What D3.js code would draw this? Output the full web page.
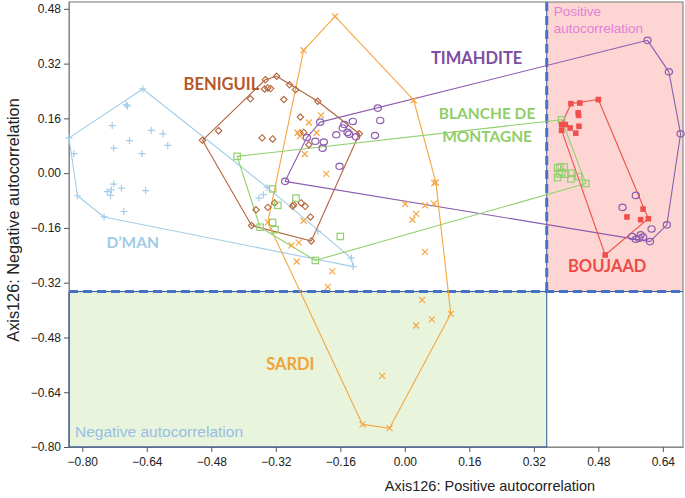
<!DOCTYPE html>
<html>
<head>
<meta charset="utf-8">
<script src="https://cdn.jsdelivr.net/npm/d3@7"></script>
<style>
  body { margin: 0; background: #fff; }
  svg { display: block; }
</style>
</head>
<body>
<script>
// points, [axis1, axis2]
const dman = [[-0.650, 0.246], [-0.691, 0.200], [-0.688, 0.196], [-0.726, 0.139], [-0.629, 0.125],
    [-0.600, 0.115], [-0.683, 0.095], [-0.588, 0.081], [-0.722, 0.073], [-0.652, 0.057],
    [-0.833, 0.103], [-0.821, 0.057], [-0.722, -0.032], [-0.703, -0.044], [-0.738, -0.054],
    [-0.728, -0.049], [-0.730, -0.065], [-0.643, -0.051], [-0.812, -0.066], [-0.697, -0.112],
    [-0.746, -0.128], [-0.342, -0.041], [-0.362, -0.073], [-0.351, -0.063], [-0.216, -0.170],
    [-0.133, -0.248], [-0.128, -0.273]];
const beniguil = [[-0.318, 0.283], [-0.346, 0.273], [-0.286, 0.258], [-0.348, 0.246], [-0.340, 0.249],
    [-0.333, 0.247], [-0.271, 0.244], [-0.383, 0.217], [-0.300, 0.215], [-0.216, 0.210],
    [-0.259, 0.164], [-0.462, 0.124], [-0.251, 0.119], [-0.260, 0.117], [-0.354, 0.103],
    [-0.328, 0.100], [-0.502, 0.096], [-0.238, 0.083], [-0.113, 0.115], [-0.369, -0.107],
    [-0.340, -0.100], [-0.323, -0.087], [-0.278, -0.097], [-0.276, -0.092], [-0.257, -0.087],
    [-0.247, -0.097], [-0.234, -0.128], [-0.380, -0.153], [-0.232, -0.198]];
const timahdite = [[-0.210, 0.149], [-0.067, 0.190], [-0.061, 0.154], [-0.129, 0.151], [-0.150, 0.142],
    [-0.154, 0.132], [-0.142, 0.119], [-0.138, 0.114], [-0.170, 0.112], [-0.121, 0.106],
    [-0.074, 0.110], [-0.243, 0.104], [-0.222, 0.093], [-0.201, 0.091], [-0.204, 0.073],
    [-0.162, 0.020], [-0.297, -0.024], [0.602, 0.388], [0.655, 0.296], [0.684, 0.115],
    [0.573, -0.065], [0.540, -0.100], [0.650, -0.151], [0.612, -0.163], [0.608, -0.200],
    [0.564, -0.185], [0.573, -0.193], [0.581, -0.190], [0.591, -0.187], [0.585, -0.180]];
const sardi = [[-0.173, 0.458], [-0.251, 0.359], [0.022, 0.213], [0.077, -0.027], [0.114, -0.411],
    [-0.038, -0.745], [-0.105, -0.734], [-0.340, -0.144], [-0.208, 0.169], [-0.238, 0.148],
    [-0.219, 0.118], [-0.266, 0.118], [-0.260, 0.108], [-0.248, 0.056], [-0.195, -0.002],
    [0.073, -0.029], [0.001, -0.090], [0.050, -0.094], [0.072, -0.089], [0.028, -0.119],
    [0.019, -0.136], [-0.251, -0.139], [0.050, -0.230], [-0.281, -0.211], [-0.263, -0.203],
    [-0.268, -0.258], [-0.180, -0.287], [-0.191, -0.332], [0.043, -0.370], [0.067, -0.427],
    [0.028, -0.445], [-0.056, -0.592]];
const blanche = [[-0.416, 0.049], [-0.328, -0.046], [-0.315, -0.094], [-0.270, -0.073], [-0.328, -0.144],
    [-0.359, -0.158], [-0.322, -0.165], [-0.222, -0.255], [-0.160, -0.185], [0.389, 0.156],
    [0.379, 0.015], [0.385, 0.018], [0.395, 0.018], [0.389, 0.002], [0.383, -0.002],
    [0.379, -0.013], [0.399, -0.003], [0.412, 0.000], [0.412, -0.017], [0.431, -0.010],
    [0.449, -0.030]];
const boujaad = [[0.412, 0.203], [0.434, 0.205], [0.480, 0.215], [0.430, 0.176], [0.431, 0.169],
    [0.389, 0.142], [0.398, 0.142], [0.410, 0.132], [0.432, 0.137], [0.389, 0.125],
    [0.424, 0.117], [0.591, -0.105], [0.551, -0.128], [0.585, -0.136], [0.604, -0.133],
    [0.497, -0.239]];

const groupNames = ["D’MAN", "BENIGUIL", "TIMAHDITE", "SARDI", "BLANCHE DE MONTAGNE", "BOUJAAD"];
const groupPoints = [dman, beniguil, timahdite, sardi, blanche, boujaad];
const groupLabelPos = [[-0.675, -0.218], [-0.455, 0.244], [0.178, 0.318], [-0.284, -0.574], [0.204, 0.157], [0.502, -0.288]];

const xTicks = [-0.80, -0.64, -0.48, -0.32, -0.16, 0.00, 0.16, 0.32, 0.48, 0.64];
const yTicks = [0.48, 0.32, 0.16, 0.00, -0.16, -0.32, -0.48, -0.64, -0.80];

// autocorrelation quadrant thresholds
const xSplit = 0.352;
const ySplit = -0.346;

const colors = ["#a3cde9", "#b3643a", "#8c5db0", "#f6a640", "#92cf6d", "#f0504c"];
const labelColors = ["#9fcbe6", "#b5582a", "#7e4ea2", "#f0a43a", "#8fce68", "#ee4b48"];
const markers = ["plus", "diamond", "circle", "cross", "square", "filled"];

const width = 685, height = 498;
const margin = {left: 69, right: 2, top: 2, bottom: 51};

const svg = d3.select("body").append("svg")
    .attr("width", width)
    .attr("height", height)
    .style("font-family", "'Liberation Sans', Arial, sans-serif");

const x = d3.scaleLinear().domain([-0.833, 0.69]).range([margin.left, width - margin.right]);
const y = d3.scaleLinear().domain([-0.80, 0.50]).range([height - margin.bottom, margin.top]);

// shaded regions
svg.append("rect")
    .attr("x", x(-0.833)).attr("y", y(ySplit))
    .attr("width", x(xSplit) - x(-0.833)).attr("height", y(-0.80) - y(ySplit))
    .attr("fill", "#e8f4dc");
svg.append("rect")
    .attr("x", x(xSplit)).attr("y", y(0.50))
    .attr("width", x(0.69) - x(xSplit)).attr("height", y(ySplit) - y(0.50))
    .attr("fill", "#fdd6d3");

// frame
svg.append("rect")
    .attr("x", x(-0.833)).attr("y", y(0.50))
    .attr("width", x(0.69) - x(-0.833)).attr("height", y(-0.80) - y(0.50))
    .attr("fill", "none").attr("stroke", "#8a8a8a").attr("stroke-width", 1.2);

// axes
const xAxis = svg.append("g")
    .attr("transform", "translate(0," + y(-0.80) + ")")
    .call(d3.axisBottom(x).tickValues(xTicks).tickFormat(d3.format(".2f")).tickSize(5).tickSizeOuter(0));
const yAxis = svg.append("g")
    .attr("transform", "translate(" + x(-0.833) + ",0)")
    .call(d3.axisLeft(y).tickValues(yTicks).tickFormat(d3.format(".2f")).tickSize(5).tickSizeOuter(0));
[xAxis, yAxis].forEach(a => {
    a.select(".domain").attr("stroke", "#8a8a8a");
    a.selectAll(".tick line").attr("stroke", "#555");
    a.selectAll("text").attr("font-size", 12).attr("fill", "#222")
        .attr("font-family", "'Liberation Sans', Arial, sans-serif");
});
xAxis.selectAll("text").attr("dy", "0.9em");

svg.append("text")
    .attr("x", 490).attr("y", 491)
    .attr("text-anchor", "middle")
    .attr("font-size", 14.5).attr("fill", "#222")
    .text("Axis126: Positive  autocorrelation");
svg.append("text")
    .attr("transform", "translate(19," + 220 + ") rotate(-90)")
    .attr("text-anchor", "middle")
    .attr("font-size", 16.3).attr("fill", "#222")
    .text("Axis126: Negative  autocorrelation");

// region borders: thin solid line, heavy dashes on the split lines
let line = d3.line().x(d => x(d[0])).y(d => y(d[1]));
svg.append("path")
    .attr("d", line([[-0.833, -0.80], [-0.833, ySplit], [0.69, ySplit]]))
    .attr("fill", "none").attr("stroke", "#2f5597").attr("stroke-width", 1);
svg.append("path")
    .attr("d", line([[-0.833, -0.80], [xSplit, -0.80], [xSplit, 0.50]]))
    .attr("fill", "none").attr("stroke", "#2f5597").attr("stroke-width", 1);
[[[-0.833, ySplit], [0.69, ySplit]], [[xSplit, 0.50], [xSplit, ySplit]]].forEach(seg => {
    svg.append("path").attr("d", line(seg)).attr("fill", "none")
        .attr("stroke", "#4472c4").attr("stroke-width", 3).attr("stroke-dasharray", "9,5");
});

// hulls
groupPoints.forEach((pts, i) => {
    let hull = d3.polygonHull(pts.map(p => [x(p[0]), y(p[1])]));
    svg.append("path")
        .attr("d", "M" + hull.join("L") + "Z")
        .attr("fill", "none")
        .attr("stroke", colors[i])
        .attr("stroke-width", 1.1)
        .attr("stroke-linejoin", "round");
});

// markers
function drawMarker(g, type, color) {
    if (type === "plus") {
        g.append("path").attr("d", "M-3.5,0H3.5M0,-3.5V3.5").attr("stroke", color).attr("stroke-width", 1.2);
    } else if (type === "cross") {
        g.append("path").attr("d", "M-3,-3L3,3M-3,3L3,-3").attr("stroke", color).attr("stroke-width", 1.2);
    } else if (type === "diamond") {
        g.append("path").attr("d", "M0,-3.2L3.2,0L0,3.2L-3.2,0Z").attr("fill", "none").attr("stroke", color).attr("stroke-width", 1.1);
    } else if (type === "circle") {
        g.append("ellipse").attr("rx", 3.6).attr("ry", 3.2).attr("fill", "none").attr("stroke", color).attr("stroke-width", 1.2);
    } else if (type === "square") {
        g.append("rect").attr("x", -3.2).attr("y", -3.2).attr("width", 6.4).attr("height", 6.4)
            .attr("fill", "none").attr("stroke", color).attr("stroke-width", 1.2);
    } else {
        g.append("rect").attr("x", -2.8).attr("y", -2.8).attr("width", 5.6).attr("height", 5.6).attr("fill", color);
    }
}
groupPoints.forEach((pts, i) => {
    svg.append("g").selectAll("g")
        .data(pts)
        .enter()
        .append("g")
        .attr("transform", d => "translate(" + x(d[0]) + "," + y(d[1]) + ")")
        .each(function () { drawMarker(d3.select(this), markers[i], colors[i]); });
});

// group labels
groupNames.forEach((name, i) => {
    let t = svg.append("text")
        .attr("x", x(groupLabelPos[i][0]))
        .attr("y", y(groupLabelPos[i][1]))
        .attr("text-anchor", "middle")
        .attr("font-family", "Lato, 'Open Sans', sans-serif")
        .attr("font-weight", "bold")
        .attr("font-size", name === "BLANCHE DE MONTAGNE" || name === "D’MAN" ? 15.5 : 16.5)
        .attr("fill", labelColors[i]);
    if (name === "BLANCHE DE MONTAGNE") {
        t.append("tspan").attr("x", x(groupLabelPos[i][0])).text("BLANCHE DE");
        t.append("tspan").attr("x", x(groupLabelPos[i][0])).attr("dy", 23).text("MONTAGNE");
    } else {
        t.text(name);
    }
});

// region captions
svg.append("text")
    .attr("x", x(xSplit) + 7).attr("y", 16)
    .attr("font-size", 13.5).attr("fill", "#e37fd6")
    .selectAll("tspan")
    .data(["Positive", "autocorrelation"])
    .enter()
    .append("tspan")
    .attr("x", x(xSplit) + 7)
    .attr("dy", (d, i) => i === 0 ? 0 : 17)
    .text(d => d);
svg.append("text")
    .attr("x", x(-0.833) + 6).attr("y", 437)
    .attr("font-size", 15.5).attr("fill", "#98bde6")
    .text("Negative autocorrelation");
</script>
</body>
</html>
